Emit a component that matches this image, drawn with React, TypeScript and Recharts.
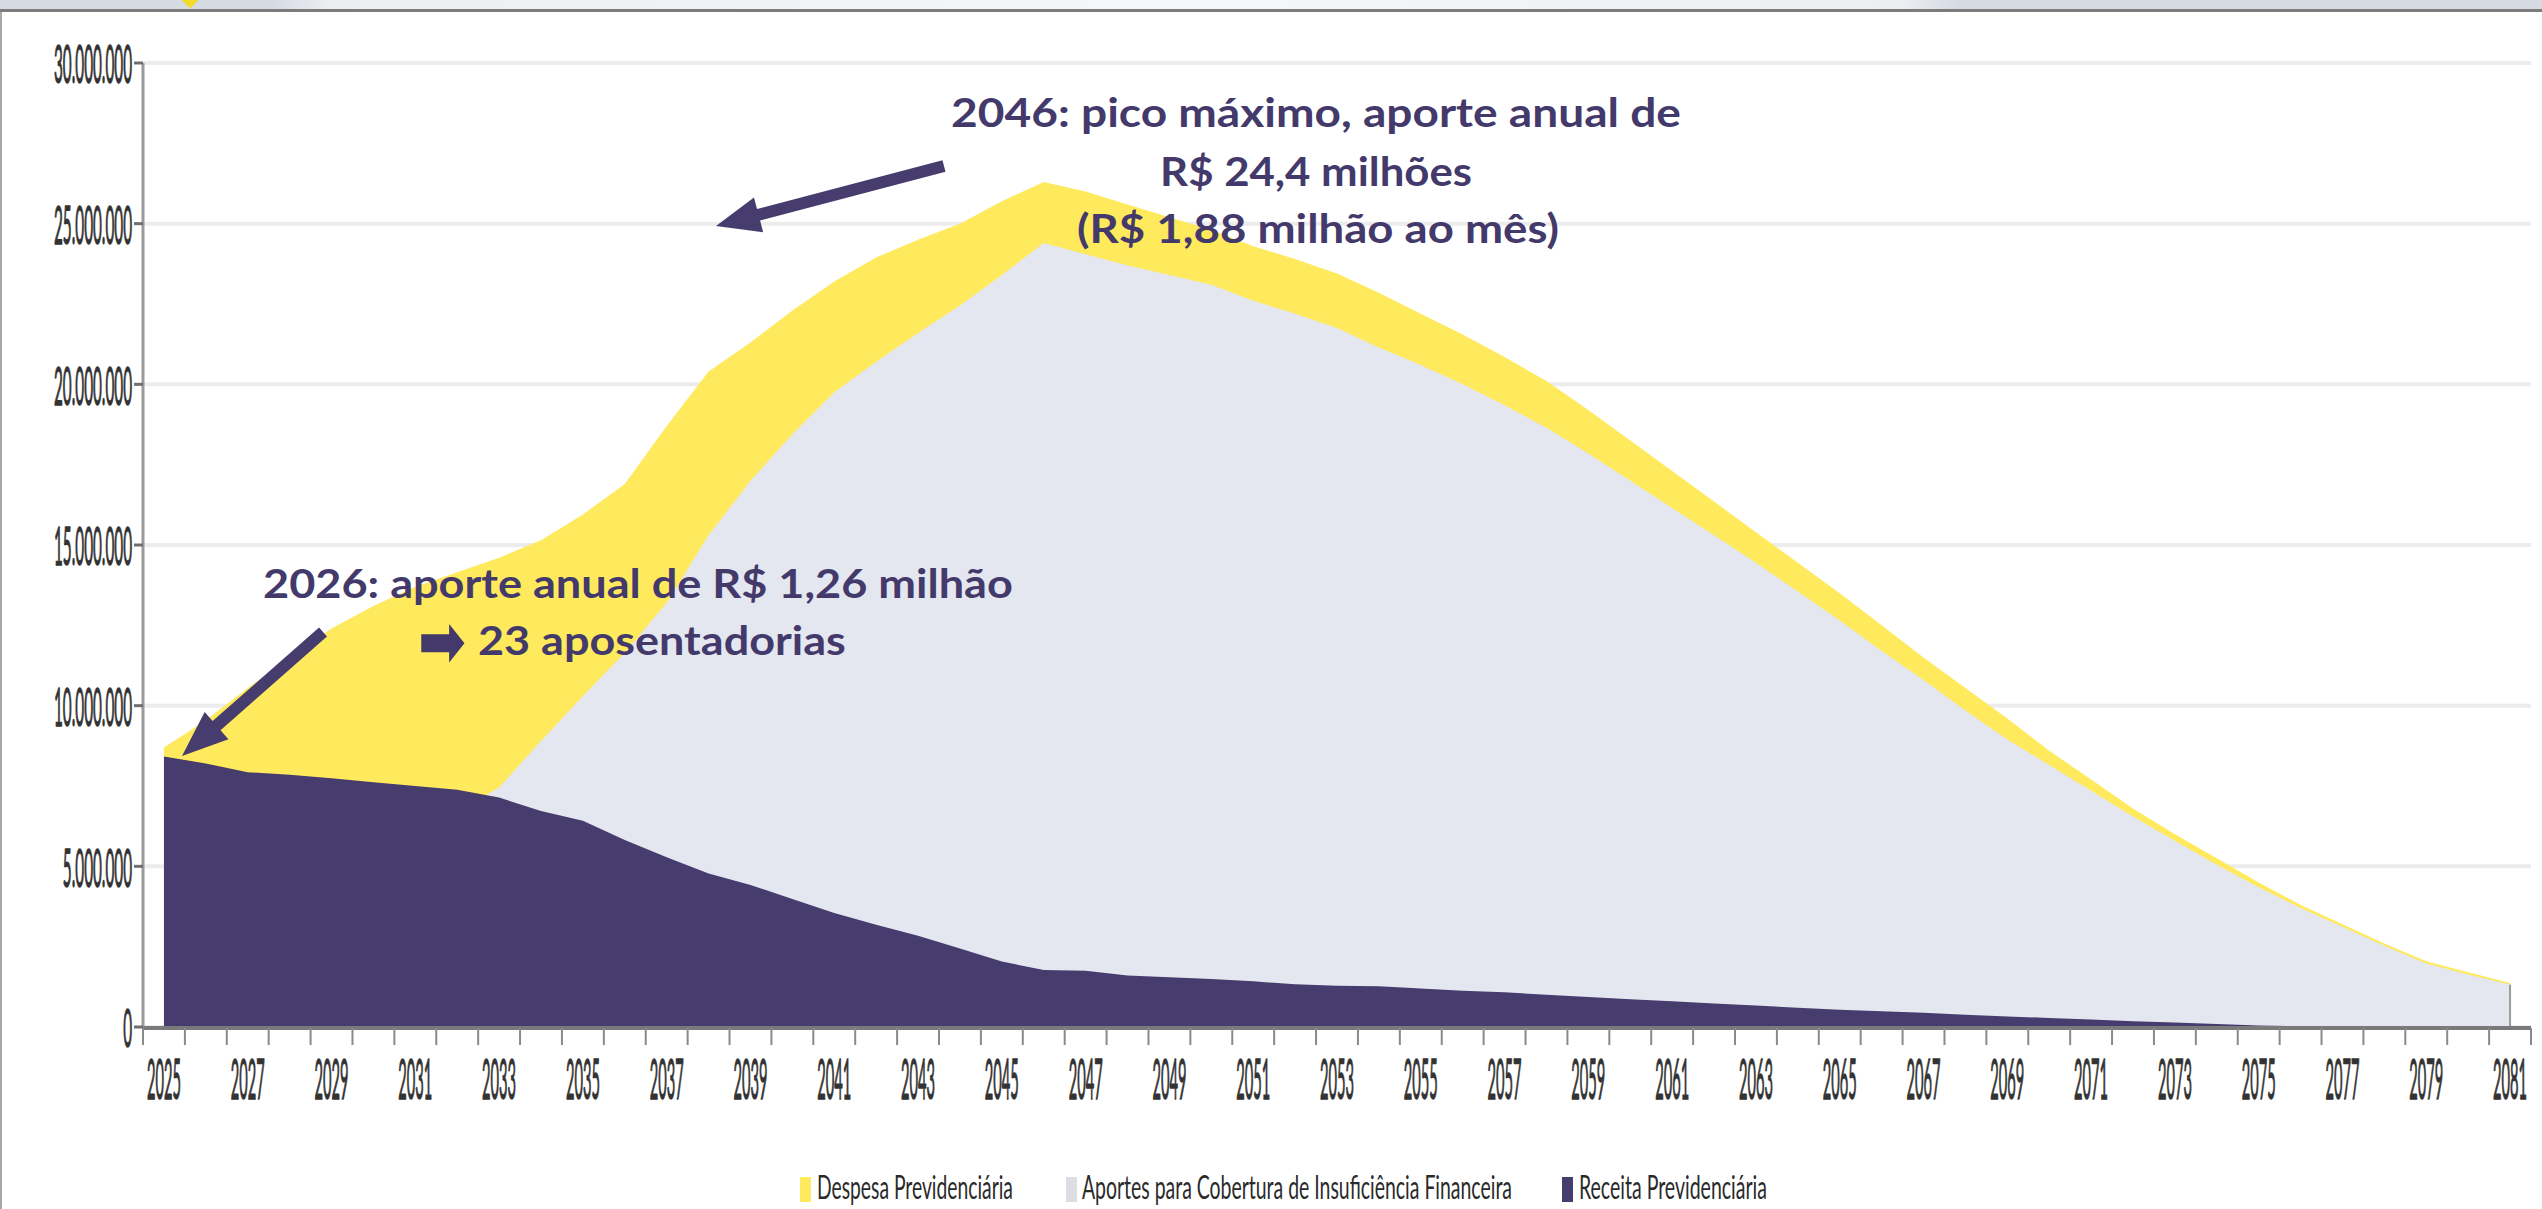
import React from 'react';
import { AreaChart, Area, XAxis, YAxis, CartesianGrid, ReferenceLine } from 'recharts';

// ---- data (R$ milhões) ----
const years = [
  2025, 2026, 2027, 2028, 2029, 2030, 2031, 2032, 2033, 2034,
  2035, 2036, 2037, 2038, 2039, 2040, 2041, 2042, 2043, 2044,
  2045, 2046, 2047, 2048, 2049, 2050, 2051, 2052, 2053, 2054,
  2055, 2056, 2057, 2058, 2059, 2060, 2061, 2062, 2063, 2064,
  2065, 2066, 2067, 2068, 2069, 2070, 2071, 2072, 2073, 2074,
  2075, 2076, 2077, 2078, 2079, 2080, 2081,
];

const despesa = [
  8.7, 9.55, 10.55, 11.5, 12.4, 13.1, 13.7, 14.15, 14.6, 15.15,
  15.95, 16.9, 18.7, 20.4, 21.3, 22.3, 23.2, 23.95, 24.5, 25.0,
  25.7, 26.3, 26.0, 25.6, 25.2, 24.8, 24.3, 23.9, 23.45, 22.85,
  22.2, 21.55, 20.85, 20.1, 19.2, 18.25, 17.3, 16.35, 15.4, 14.45,
  13.5, 12.5, 11.5, 10.55, 9.6, 8.6, 7.7, 6.8, 6.0, 5.25,
  4.5, 3.8, 3.2, 2.6, 2.05, 1.7, 1.37,
];

const aportes = [
  0.25, 1.26, 2.6, 3.6, 4.6, 5.4, 6.1, 6.7, 7.45, 8.9,
  10.3, 11.65, 13.2, 15.3, 17.0, 18.45, 19.75, 20.7, 21.6, 22.45,
  23.4, 24.4, 24.05, 23.7, 23.4, 23.1, 22.6, 22.2, 21.75, 21.15,
  20.6, 20.0, 19.35, 18.65, 17.85, 17.0, 16.15, 15.3, 14.45, 13.55,
  12.65, 11.7, 10.8, 9.85, 8.95, 8.15, 7.35, 6.55, 5.8, 5.05,
  4.35, 3.7, 3.12, 2.53, 1.98, 1.63, 1.32,
];

const receita = [
  8.42, 8.2, 7.93, 7.85, 7.74, 7.62, 7.5, 7.38, 7.14, 6.72,
  6.42, 5.82, 5.28, 4.78, 4.42, 3.98, 3.55, 3.18, 2.84, 2.44,
  2.04, 1.77, 1.75, 1.6, 1.55, 1.49, 1.42, 1.33, 1.28, 1.27,
  1.2, 1.13, 1.08, 1.0, 0.93, 0.86, 0.8, 0.73, 0.67, 0.6,
  0.54, 0.49, 0.44, 0.38, 0.33, 0.28, 0.23, 0.18, 0.14, 0.09,
  0.05, 0.02, 0.01, 0, 0, 0, 0,
];

const yTicks = [0, 5, 10, 15, 20, 25, 30];
const labelYears = years.filter((y) => y % 2 === 1);
const boundaries = [...years.map((y) => y - 0.5), years[years.length - 1] + 0.5];

const seriesNames = {
  despesa: 'Despesa Previdenciária',
  aportes: 'Aportes para Cobertura de Insuficiência Financeira',
  receita: 'Receita Previdenciária',
};

const annotationTop = ['2046: pico máximo, aporte anual de', 'R$ 24,4 milhões', '(R$ 1,88 milhão ao mês)'];
const annotationLeft1 = '2026: aporte anual de R$ 1,26 milhão';
const annotationArrow = '➡';
const annotationLeft2 = '23 aposentadorias';

// ---- styles ----
const W = 2542;
const H = 1209;
const PURPLE = '#463C6E';
const TEXT_PURPLE = '#43396B';
const YELLOW = '#FFE95C';
const GREY = '#E4E7F0';
const LEGEND_GREY = '#DCDEE4';
const AXIS_TEXT = '#333333';

const data = years.map((year, i) => ({
  year,
  despesa: despesa[i],
  aportes: aportes[i],
  receita: receita[i],
}));

const fmt = (v: number) => String(Math.round(v * 1000000)).replace(/\B(?=(\d{3})+(?!\d))/g, '.');

let measureCtx: CanvasRenderingContext2D | null = null;
function measure(text: string, size: number, weight: number, family: string) {
  if (!measureCtx) measureCtx = document.createElement('canvas').getContext('2d');
  if (!measureCtx) return text.length * size * 0.5;
  measureCtx.font = `${weight} ${size}px "${family}"`;
  return measureCtx.measureText(text).width || text.length * size * 0.5;
}

// text horizontally squeezed/stretched to a target width (real text, scaled)
const FitText = ({
  x, y, width, text, size, weight = 400, family = 'Lato', anchor = 'start', fill = AXIS_TEXT, baseline,
}: any) => {
  const s = width / measure(text, size, weight, family);
  return (
    <text
      transform={`translate(${x},${y}) scale(${s},1)`}
      textAnchor={anchor}
      dominantBaseline={baseline}
      fontFamily={family}
      fontWeight={weight}
      fontSize={size}
      fill={fill}
    >
      {text}
    </text>
  );
};

const Y_FONT = 53;
const X_FONT = 56;
const AXIS_WEIGHT = 400;

const YTick = ({ x, y, payload }: any) => {
  const s = 78 / measure(fmt(30), Y_FONT, AXIS_WEIGHT, 'Lato');
  return (
    <text
      transform={`translate(${x},${y}) scale(${s},1)`}
      textAnchor="end"
      dominantBaseline="central"
      fontFamily="Lato"
      fontWeight={AXIS_WEIGHT}
      fontSize={Y_FONT}
      fill={AXIS_TEXT}
      stroke={AXIS_TEXT}
      strokeWidth={1.3}
    >
      {fmt(payload.value)}
    </text>
  );
};

const XLabel = ({ x, y, payload }: any) => {
  const s = 34 / measure('2025', X_FONT, AXIS_WEIGHT, 'Lato');
  return (
    <text
      transform={`translate(${x},${y + 51}) scale(${s},1)`}
      textAnchor="middle"
      dominantBaseline="central"
      fontFamily="Lato"
      fontWeight={AXIS_WEIGHT}
      fontSize={X_FONT}
      fill={AXIS_TEXT}
      stroke={AXIS_TEXT}
      strokeWidth={1.3}
    >
      {payload.value}
    </text>
  );
};

const EmptyTick = () => <g />;

function arrowPoints(tx: number, ty: number, px: number, py: number, w: number, hl: number, hw: number) {
  const dx = px - tx;
  const dy = py - ty;
  const L = Math.hypot(dx, dy);
  const ux = dx / L;
  const uy = dy / L;
  const nx = -uy;
  const ny = ux;
  const bx = px - ux * hl;
  const by = py - uy * hl;
  const pts = [
    [tx + (nx * w) / 2, ty + (ny * w) / 2],
    [bx + (nx * w) / 2, by + (ny * w) / 2],
    [bx + (nx * hw) / 2, by + (ny * hw) / 2],
    [px, py],
    [bx - (nx * hw) / 2, by - (ny * hw) / 2],
    [bx - (nx * w) / 2, by - (ny * w) / 2],
    [tx - (nx * w) / 2, ty - (ny * w) / 2],
  ];
  return pts.map((p) => p.join(',')).join(' ');
}

const legendLayout = [
  { key: 'despesa', color: YELLOW, mx: 800, tx: 817, tl: 196 },
  { key: 'aportes', color: LEGEND_GREY, mx: 1066, tx: 1082, tl: 430 },
  { key: 'receita', color: PURPLE, mx: 1562, tx: 1579, tl: 188 },
];

export default function App() {
  return (
    <div
      style={{
        position: 'absolute',
        left: 0,
        top: 0,
        width: W,
        height: H,
        background: '#FFFFFF',
        overflow: 'hidden',
      }}
    >
      {/* slide header strip */}
      <div
        style={{
          position: 'absolute',
          left: 0,
          top: 0,
          width: W,
          height: 9,
          background:
            'linear-gradient(to right, #D6DAE3 0px, #D6DAE3 270px, #ECEEF2 330px, #F6F7F9 1200px, #ECEEF2 1900px, #D6DAE3 1960px, #D6DAE3 2542px)',
        }}
      />
      <div
        style={{
          position: 'absolute',
          left: 184,
          top: -6,
          width: 12,
          height: 12,
          background: '#F3DB2A',
          transform: 'rotate(45deg)',
        }}
      />
      <div style={{ position: 'absolute', left: 0, top: 9, width: W, height: 3, background: '#7C7C7C' }} />
      <div style={{ position: 'absolute', left: 0, top: 12, width: 2, height: H - 12, background: '#A8A8A8' }} />

      <div style={{ position: 'absolute', left: 0, top: 0 }}>
        <AreaChart width={W} height={H} data={data} margin={{ top: 63, right: 11, bottom: 180, left: 0 }}>
          <CartesianGrid xAxisId="lab" vertical={false} stroke="#ECECEC" strokeWidth={4} />
          <XAxis
            xAxisId="lab"
            dataKey="year"
            type="number"
            domain={[2024.5, 2081.5]}
            ticks={labelYears}
            interval={0}
            height={1}
            axisLine={false}
            tickLine={false}
            tickSize={0}
            tickMargin={0}
            tick={<XLabel />}
          />
          <XAxis
            xAxisId="tk"
            dataKey="year"
            type="number"
            domain={[2024.5, 2081.5]}
            ticks={boundaries}
            interval={0}
            height={1}
            axisLine={{ stroke: '#7A7A7A', strokeWidth: 4 }}
            tickLine={{ stroke: '#8A8A8A', strokeWidth: 2 }}
            tickSize={17}
            tick={<EmptyTick />}
          />
          <YAxis
            width={143}
            type="number"
            domain={[0, 30]}
            ticks={yTicks}
            interval={0}
            axisLine={{ stroke: '#9A9A9A', strokeWidth: 3 }}
            tickLine={{ stroke: '#6E6E6E', strokeWidth: 3 }}
            tickSize={9}
            tickMargin={2}
            tick={<YTick />}
          />
          <Area
            xAxisId="lab"
            type="linear"
            dataKey="despesa"
            name={seriesNames.despesa}
            fill={YELLOW}
            fillOpacity={1}
            stroke="none"
            dot={false}
            activeDot={false}
            isAnimationActive={false}
          />
          <Area
            xAxisId="lab"
            type="linear"
            dataKey="aportes"
            name={seriesNames.aportes}
            fill={GREY}
            fillOpacity={1}
            stroke="none"
            dot={false}
            activeDot={false}
            isAnimationActive={false}
          />
          <Area
            xAxisId="lab"
            type="linear"
            dataKey="receita"
            name={seriesNames.receita}
            fill={PURPLE}
            fillOpacity={1}
            stroke="none"
            dot={false}
            activeDot={false}
            isAnimationActive={false}
          />
          <ReferenceLine
            xAxisId="lab"
            segment={[
              { x: years[years.length - 1], y: 0 },
              { x: years[years.length - 1], y: aportes[aportes.length - 1] },
            ]}
            stroke="#9A9A9A"
            strokeWidth={2}
          />
        </AreaChart>
      </div>

      {/* annotations + legend overlay */}
      <svg
        width={W}
        height={H}
        style={{ position: 'absolute', left: 0, top: 0, pointerEvents: 'none' }}
      >
        <polygon points={arrowPoints(944, 166, 716, 226, 12, 44, 36)} fill={PURPLE} />
        <polygon points={arrowPoints(323, 632, 182, 756, 12, 46, 36)} fill={PURPLE} />

        <FitText x={1316} y={127} width={730} text={annotationTop[0]} size={40} weight={700} anchor="middle" fill={TEXT_PURPLE} />
        <FitText x={1316} y={186} width={312} text={annotationTop[1]} size={40} weight={700} anchor="middle" fill={TEXT_PURPLE} />
        <FitText x={1318} y={243} width={482} text={annotationTop[2]} size={40} weight={700} anchor="middle" fill={TEXT_PURPLE} />
        <FitText x={263} y={598} width={750} text={annotationLeft1} size={40} weight={700} fill={TEXT_PURPLE} />
        <FitText x={418} y={666} width={48} text={annotationArrow} size={72} weight={700} family="DejaVu Sans" fill={TEXT_PURPLE} />
        <FitText x={478} y={655} width={368} text={annotationLeft2} size={40} weight={700} fill={TEXT_PURPLE} />

        {legendLayout.map((l) => (
          <g key={l.key}>
            <rect x={l.mx} y={1177} width={11} height={25} fill={l.color} />
            <FitText x={l.tx} y={1199} width={l.tl} text={(seriesNames as any)[l.key]} size={33} fill="#2A2A2A" />
          </g>
        ))}
      </svg>
    </div>
  );
}
